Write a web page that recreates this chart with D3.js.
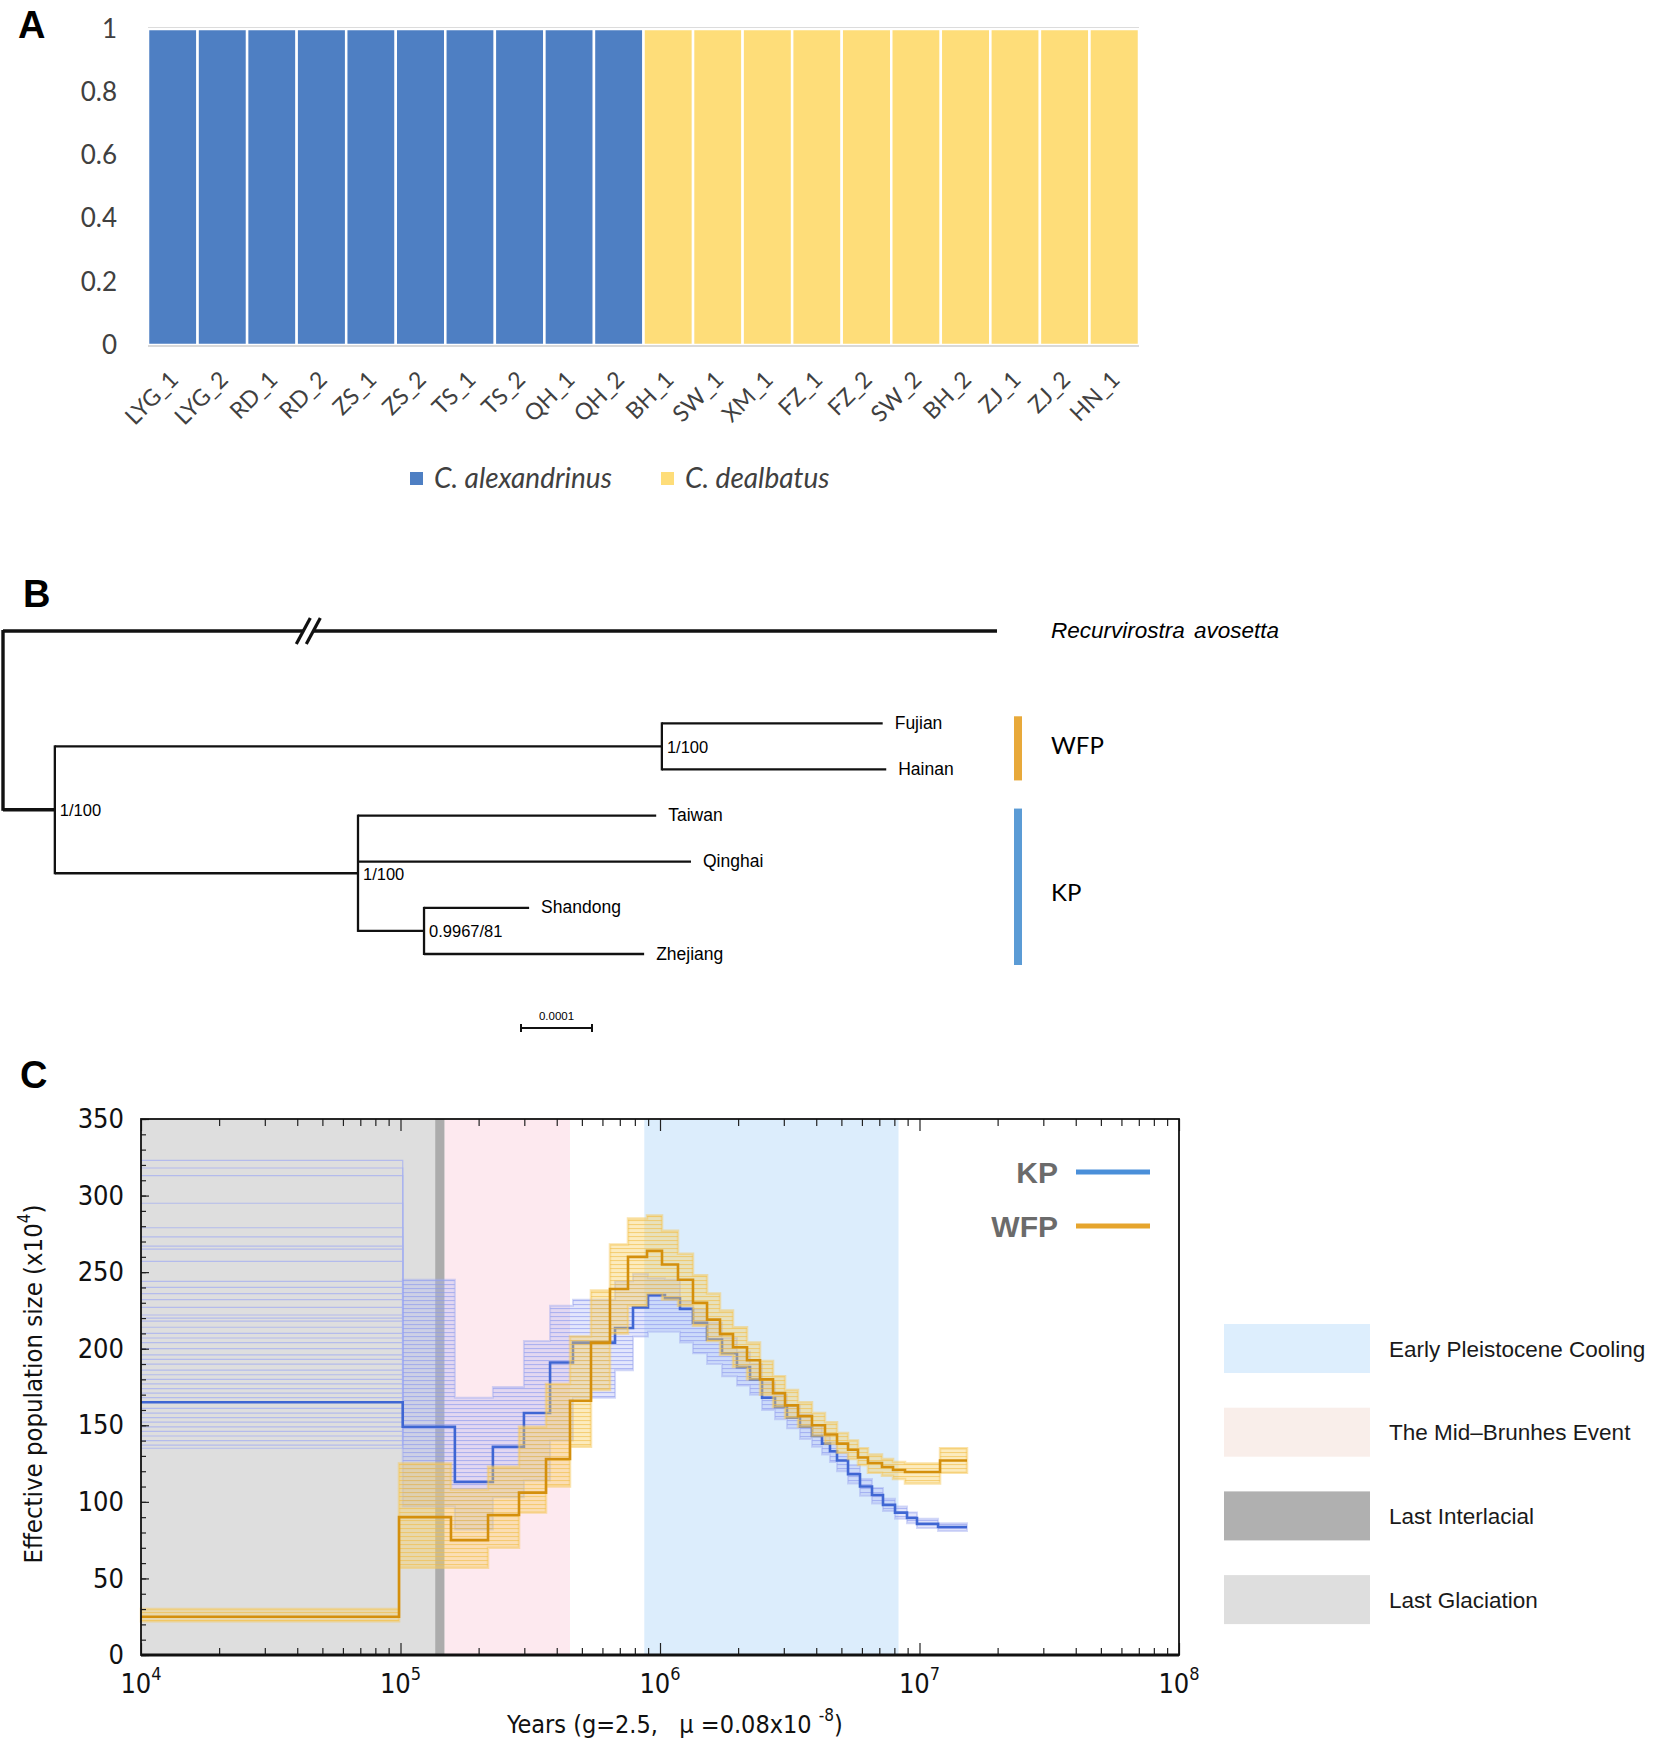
<!DOCTYPE html>
<html>
<head>
<meta charset="utf-8">
<script src="https://cdn.jsdelivr.net/npm/d3@7"></script>
<style>
  body { margin: 0; background: #fff; }
  svg { display: block; }
</style>
</head>
<body>
<div id="chart"></div>
<script>
// ---------- A: ancestry bar plot
const samples = ["LYG_1", "LYG_2", "RD_1", "RD_2", "ZS_1", "ZS_2", "TS_1", "TS_2", "QH_1", "QH_2",
  "BH_1", "SW_1", "XM_1", "FZ_1", "FZ_2", "SW_2", "BH_2", "ZJ_1", "ZJ_2", "HN_1"];
const alexandrinusShare = [1, 1, 1, 1, 1, 1, 1, 1, 1, 1, 0, 0, 0, 0, 0, 0, 0, 0, 0, 0];
const dealbatusShare = [0, 0, 0, 0, 0, 0, 0, 0, 0, 0, 1, 1, 1, 1, 1, 1, 1, 1, 1, 1];
const ancestryKeys = ["C. alexandrinus", "C. dealbatus"];
const shareTicks = [0, 0.2, 0.4, 0.6, 0.8, 1];

// ---------- B: tree (parent table, branch lengths in subst./site)
const treeNodes = ["root", "Recurvirostra avosetta", "ingroup", "WFPnode", "Fujian", "Hainan",
  "KPnode", "Taiwan", "Qinghai", "SZnode", "Shandong", "Zhejiang"];
const treeParents = ["", "root", "root", "ingroup", "WFPnode", "WFPnode",
  "ingroup", "KPnode", "KPnode", "KPnode", "SZnode", "SZnode"];
const branchLengths = [0, 0.0014, 0.000073, 0.000855, 0.000311, 0.000316,
  0.000427, 0.00042, 0.000469, 0.000093, 0.000148, 0.00031];
const nodeSupport = ["", "", "1/100", "1/100", "", "", "1/100", "", "", "0.9967/81", "", ""];
const cladeNames = ["WFP", "KP"];
const cladeTips = [["Fujian", "Hainan"], ["Taiwan", "Qinghai", "Shandong", "Zhejiang"]];
const scaleBarLength = 0.0001;

// ---------- C: PSMC
const periodNames = ["Last Glaciation", "Last Interlacial", "The Mid\u2013Brunhes Event", "Early Pleistocene Cooling"];
const periodStart = [1e4, 1.36e5, 1.48e5, 8.7e5];
const periodEnd = [1.36e5, 1.48e5, 4.5e5, 8.3e6];

const kpTime = [1e4, 1.02e5, 1.62e5, 2.27e5, 2.99e5, 3.77e5, 4.62e5, 6.71e5, 7.87e5, 8.99e5,
  1.045e6, 1.194e6, 1.34e6, 1.518e6, 1.734e6, 1.98e6, 2.223e6, 2.473e6, 2.775e6, 3.086e6,
  3.463e6, 3.852e6, 4.21e6, 4.519e6, 4.81e6, 5.304e6, 5.898e6, 6.561e6, 7.233e6, 8.047e6,
  8.951e6, 9.781e6, 1.179e7, 1.524e7];
const kpNe = [165, 149, 113, 136, 158, 191, 204, 213.5, 227, 235,
  233, 226, 217, 206, 197, 188, 180, 168, 162, 155,
  149, 143, 138, 133, 127, 118, 110, 104.5, 98, 93,
  89.5, 85.6, 83.6];
const kpBootLow = [null, 97, 82, 103, 114, 140, 168, 186, 208, 211,
  211, 204, 197, 190, 182, 176, 170, 160, 154, 148,
  141, 136, 131, 126, 120, 112, 104, 99, 94, 89,
  86, 83, 81];
const kpBootHigh = [null, 245, 168, 175, 205, 228, 232, 244, 249, 246,
  245, 231, 226, 217, 207, 198, 190, 178, 170, 163,
  157, 150, 144, 139, 132, 124, 115, 109, 102, 97,
  93, 89, 86];
// recent-interval bootstrap levels of KP (the spread of flat lines left of 1e5)
const kpBootRecent = [323, 318, 313, 295, 279, 273, 267, 265, 257, 244, 240, 236, 232, 227, 222,
  220, 218, 214, 210, 207, 204, 200, 196, 193, 190, 186, 183, 180, 177, 174, 171, 168,
  161, 158, 155, 152, 149, 146, 143, 140, 137, 135];

const wfpTime = [1e4, 9.87e4, 1.565e5, 2.174e5, 2.862e5, 3.637e5, 4.499e5, 5.421e5, 6.416e5, 7.528e5,
  8.912e5, 1.018e6, 1.173e6, 1.34e6, 1.518e6, 1.703e6, 1.911e6, 2.164e6, 2.429e6, 2.726e6,
  3.032e6, 3.402e6, 3.852e6, 4.323e6, 4.81e6, 5.304e6, 5.794e6, 6.33e6, 7.169e6, 7.906e6,
  8.794e6, 1.2e7, 1.524e7];
const wfpNe = [25, 90, 75, 91.4, 106, 128, 166, 204, 239, 260,
  264, 255, 245, 230, 219, 209.5, 201, 192.5, 180, 171,
  163, 156, 150, 144, 138, 134, 129, 125.4, 122.8, 120.8,
  119.5, 127];
const wfpBootLow = [22, 57, 57, 70, 93, 110, 136, 173, 210, 228,
  236, 232, 228, 215, 205, 196, 188, 180, 170, 162,
  155, 149, 143, 138, 132, 128, 124, 119, 117, 115,
  112, 119];
const wfpBootHigh = [30, 125, 108, 123, 149, 177, 208, 238, 268, 285,
  287, 277, 262, 248, 236, 225, 214, 204, 192, 182,
  173, 165, 158, 152, 145, 140, 135, 131, 128, 126,
  125, 135];

const yTicksC = [0, 50, 100, 150, 200, 250, 300, 350];
const decades = [1e4, 1e5, 1e6, 1e7, 1e8];

// ---------- page
const W = 1654, H = 1741;
const svg = d3.select("#chart").append("svg")
  .attr("width", W).attr("height", H)
  .style("font-family", "'Liberation Sans', Arial, sans-serif");

svg.append("rect").attr("width", W).attr("height", H).attr("fill", "#fff");

svg.selectAll("text.panel")
  .data([["A", 18, 38], ["B", 23, 607], ["C", 20, 1088]])
  .join("text")
  .attr("class", "panel")
  .attr("x", (d) => d[1]).attr("y", (d) => d[2])
  .style("font-size", "38px").style("font-weight", "bold")
  .text((d) => d[0]);

// ================= Panel A =================
{
  const g = svg.append("g").style("font-family", "Lato, 'Open Sans', sans-serif");
  const xA = d3.scaleBand().domain(samples).range([148, 1139]).paddingInner(0);
  const yA = d3.scaleLinear().domain([0, 1]).range([345, 29]);
  const colorA = d3.scaleOrdinal().domain(ancestryKeys).range(["#4e7fc3", "#fedd79"]);

  const rows = samples.map((s, i) => ({
    sample: s,
    "C. alexandrinus": alexandrinusShare[i],
    "C. dealbatus": dealbatusShare[i],
  }));
  const stacked = d3.stack().keys(ancestryKeys)(rows);

  g.selectAll("g.layer")
    .data(stacked)
    .join("g")
    .attr("class", "layer")
    .attr("fill", (d) => colorA(d.key))
    .selectAll("rect")
    .data((d) => d.filter((p) => p[1] > p[0]))
    .join("rect")
    .attr("x", (d) => xA(d.data.sample))
    .attr("y", (d) => yA(d[1]))
    .attr("width", xA.bandwidth())
    .attr("height", (d) => yA(d[0]) - yA(d[1]))
    .attr("stroke", "#fff")
    .attr("stroke-width", 2.5);

  // light grid line at top and axis line at bottom
  g.append("line").attr("x1", 148).attr("x2", 1139).attr("y1", yA(1) - 1.5).attr("y2", yA(1) - 1.5)
    .attr("stroke", "#dcdcdc").attr("stroke-width", 1.2);
  g.append("line").attr("x1", 148).attr("x2", 1139).attr("y1", yA(0) + 1).attr("y2", yA(0) + 1)
    .attr("stroke", "#d9d9d9").attr("stroke-width", 2);

  const yAxis = g.append("g")
    .attr("transform", "translate(148,0)")
    .call(d3.axisLeft(yA).tickValues(shareTicks).tickSize(0).tickPadding(31)
      .tickFormat((d) => (d === 0 || d === 1 ? d : d.toFixed(1))));
  yAxis.select(".domain").remove();
  yAxis.selectAll("text")
    .style("font-family", "Lato, 'Open Sans', sans-serif")
    .style("font-size", "26px").attr("fill", "#404040");

  g.selectAll("text.xl")
    .data(samples)
    .join("text")
    .attr("class", "xl")
    .attr("transform", (d) => `translate(${xA(d) + xA.bandwidth() / 2 + 7},${381}) rotate(-45)`)
    .attr("text-anchor", "end")
    .style("font-size", "23px")
    .attr("fill", "#404040")
    .text((d) => d);

  const legA = g.selectAll("g.leg")
    .data(ancestryKeys)
    .join("g")
    .attr("class", "leg")
    .attr("transform", (d, i) => `translate(${[410, 661][i]},472)`);
  legA.append("rect").attr("width", 13).attr("height", 13).attr("fill", (d) => colorA(d));
  legA.append("text")
    .attr("x", 24).attr("y", 16)
    .style("font-size", "28px").style("font-style", "italic")
    .attr("fill", "#404040")
    .text((d) => d);
}

// ================= Panel B =================
{
  const g = svg.append("g");
  const table = treeNodes.map((id, i) => ({
    id, parent: treeParents[i], len: branchLengths[i], support: nodeSupport[i],
  }));
  const root = d3.stratify().id((d) => d.id).parentId((d) => d.parent)(table);

  root.eachBefore((n) => { n.dist = n.parent ? n.parent.dist + n.data.len : 0; });
  const leaves = root.leaves();
  // outgroup sits one slot above the ingroup
  leaves.forEach((n, i) => { n.slot = i === 0 ? 0 : i + 1; });

  const xT = d3.scaleLinear().domain([0, 0.0014]).range([3, 997]);
  const yT = d3.scaleLinear().domain([0, 7]).range([631, 954]);

  root.eachAfter((n) => {
    if (n.children) {
      n.y = (n.children[0].y + n.children[n.children.length - 1].y) / 2;
    } else {
      n.y = yT(n.slot);
    }
    n.x = xT(n.dist);
  });

  const thick = (n) => (n.depth <= 1 ? 3.4 : 2.3);

  // horizontal branches
  g.selectAll("line.h")
    .data(root.descendants().filter((n) => n.parent))
    .join("line")
    .attr("class", "h")
    .attr("x1", (n) => n.parent.x).attr("x2", (n) => n.x)
    .attr("y1", (n) => n.y).attr("y2", (n) => n.y)
    .attr("stroke", "#111").attr("stroke-width", thick);

  // vertical connectors
  g.selectAll("line.v")
    .data(root.descendants().filter((n) => n.children))
    .join("line")
    .attr("class", "v")
    .attr("x1", (n) => n.x).attr("x2", (n) => n.x)
    .attr("y1", (n) => n.children[0].y - 1)
    .attr("y2", (n) => n.children[n.children.length - 1].y + 1)
    .attr("stroke", "#111").attr("stroke-width", (n) => (n.depth === 0 ? 3.4 : 2.3));

  // break mark on the outgroup branch
  const out = leaves[0];
  const bx = xT(0.00043);
  g.append("polygon")
    .attr("points", `${bx - 9},${out.y + 10} ${bx + 1},${out.y - 10} ${bx + 9},${out.y - 10} ${bx - 1},${out.y + 10}`)
    .attr("fill", "#fff");
  [-5, 5].forEach((o) => {
    g.append("line")
      .attr("x1", bx + o - 7).attr("y1", out.y + 13)
      .attr("x2", bx + o + 7).attr("y2", out.y - 13)
      .attr("stroke", "#111").attr("stroke-width", 3.2);
  });

  // support values
  g.selectAll("text.sup")
    .data(root.descendants().filter((n) => n.data.support))
    .join("text")
    .attr("class", "sup")
    .attr("x", (n) => n.x + 5)
    .attr("y", (n) => n.y + 2)
    .attr("dominant-baseline", "middle")
    .style("font-size", "16.5px")
    .text((n) => n.data.support);

  // tip labels
  g.selectAll("text.tip")
    .data(leaves.slice(1))
    .join("text")
    .attr("class", "tip")
    .attr("x", (n) => n.x + 12)
    .attr("y", (n) => n.y + 1)
    .attr("dominant-baseline", "middle")
    .style("font-size", "17.5px")
    .text((n) => n.id);

  g.append("text")
    .attr("x", 1051).attr("y", out.y + 1)
    .attr("dominant-baseline", "middle")
    .style("font-size", "22.5px").style("font-style", "italic")
    .style("word-spacing", "3px")
    .text(out.id);

  // clade bars
  const cladeColor = { WFP: "#e8a93a", KP: "#5b9bd5" };
  cladeNames.forEach((c, i) => {
    const ys = cladeTips[i].map((t) => leaves.find((n) => n.id === t).y);
    const top = d3.min(ys) - 7, bot = d3.max(ys) + 11;
    g.append("rect")
      .attr("x", 1014).attr("y", top).attr("width", 8).attr("height", bot - top)
      .attr("fill", cladeColor[c]);
    g.append("text")
      .attr("x", 1051).attr("y", (top + bot) / 2 + (i === 0 ? 0 : 8))
      .attr("dominant-baseline", "middle")
      .style("font-family", "Lato, 'Open Sans', sans-serif")
      .style("font-size", "24px")
      .text(c);
  });

  // scale bar
  const sx0 = 521, sx1 = sx0 + (xT(scaleBarLength) - xT(0)), sy = 1028;
  g.append("path")
    .attr("d", `M${sx0},${sy - 4}V${sy + 4}M${sx0},${sy}H${sx1}M${sx1},${sy - 4}V${sy + 4}`)
    .attr("stroke", "#111").attr("stroke-width", 2).attr("fill", "none");
  g.append("text")
    .attr("x", (sx0 + sx1) / 2).attr("y", sy - 8)
    .attr("text-anchor", "middle")
    .style("font-size", "11.5px")
    .text(scaleBarLength.toFixed(4));
}

// ================= Panel C =================
{
  const g = svg.append("g").style("font-family", "'Liberation Sans Narrow', 'DejaVu Sans Condensed', sans-serif");
  const x0 = 141, x1 = 1179, y0 = 1655, y1 = 1119;
  const xC = d3.scaleLog().domain([1e4, 1e8]).range([x0, x1]);
  const yC = d3.scaleLinear().domain([0, 350]).range([y0, y1]);

  const periodFill = ["#dedede", "#acacac", "#fde9ef", "#dcedfc"];
  const periodSwatch = ["#dedede", "#b0b0b0", "#f9eeea", "#ddeefd"];

  g.selectAll("rect.period")
    .data(periodNames)
    .join("rect")
    .attr("class", "period")
    .attr("x", (d, i) => xC(periodStart[i]))
    .attr("width", (d, i) => xC(periodEnd[i]) - xC(periodStart[i]))
    .attr("y", y1).attr("height", y0 - y1)
    .attr("fill", (d, i) => periodFill[i]);

  // hatch patterns to imitate bootstrap bundles
  const defs = svg.append("defs");
  const mkPattern = (id, bg, fg) => {
    const p = defs.append("pattern").attr("id", id)
      .attr("patternUnits", "userSpaceOnUse").attr("width", 8).attr("height", 4);
    p.append("rect").attr("width", 8).attr("height", 4).attr("fill", bg);
    p.append("rect").attr("width", 8).attr("height", 1.1).attr("fill", fg);
  };
  mkPattern("kpBoot", "rgba(170,180,245,0.33)", "rgba(140,152,238,0.6)");
  mkPattern("wfpBoot", "rgba(248,207,100,0.42)", "rgba(240,188,70,0.6)");

  const bandPts = (t, lo, hi) => {
    const pts = lo.map((l, i) => ({ t: t[i], lo: l, hi: hi[i] }));
    pts.push({ t: t[t.length - 1], lo: lo[lo.length - 1], hi: hi[hi.length - 1] });
    return pts;
  };
  const stepPts = (t, v) => {
    const pts = v.map((val, i) => ({ t: t[i], v: val }));
    pts.push({ t: t[t.length - 1], v: v[v.length - 1] });
    return pts;
  };
  const band = d3.area()
    .defined((d) => d.lo != null)
    .curve(d3.curveStepAfter)
    .x((d) => xC(d.t)).y0((d) => yC(d.lo)).y1((d) => yC(d.hi));
  const step = d3.line().curve(d3.curveStepAfter).x((d) => xC(d.t)).y((d) => yC(d.v));

  // KP bootstraps
  const flat = d3.line().x((d) => xC(d[0])).y((d) => yC(d[1]));
  g.selectAll("path.kpRecent")
    .data(kpBootRecent)
    .join("path")
    .attr("class", "kpRecent")
    .attr("d", (L) => flat([[1e4, L], [kpTime[1], L], [kpTime[1], kpNe[1]]]))
    .attr("fill", "none")
    .attr("stroke", "#a9b1ef").attr("stroke-opacity", 0.8).attr("stroke-width", 1.2);
  g.append("path")
    .attr("d", band(bandPts(kpTime, kpBootLow, kpBootHigh)))
    .attr("fill", "url(#kpBoot)")
    .attr("stroke", "rgba(160,170,240,0.45)").attr("stroke-width", 2);

  g.append("path")
    .attr("d", step(stepPts(kpTime, kpNe)))
    .attr("fill", "none").attr("stroke", "#3f66d3").attr("stroke-width", 2.6);

  // WFP bootstraps and main
  g.append("path")
    .attr("d", band(bandPts(wfpTime, wfpBootLow, wfpBootHigh)))
    .attr("fill", "url(#wfpBoot)")
    .attr("stroke", "rgba(245,200,90,0.5)").attr("stroke-width", 2.5);

  g.append("path")
    .attr("d", step(stepPts(wfpTime, wfpNe)))
    .attr("fill", "none").attr("stroke", "#d48f0c").attr("stroke-width", 2.6);

  // axes: ticks only, inward
  const allX = xC.ticks();
  const minorX = allX.filter((t) => !decades.includes(t));
  const tickStyle = (sel) => {
    sel.select(".domain").remove();
    sel.selectAll("line").attr("stroke", "#222").attr("stroke-width", 1.2);
  };
  g.append("g").attr("transform", `translate(0,${y0})`)
    .call(d3.axisBottom(xC).tickValues(minorX).tickSize(-7).tickFormat("")).call(tickStyle);
  g.append("g").attr("transform", `translate(0,${y0})`)
    .call(d3.axisBottom(xC).tickValues(decades).tickSize(-12).tickFormat("")).call(tickStyle);
  g.append("g").attr("transform", `translate(0,${y1})`)
    .call(d3.axisTop(xC).tickValues(minorX).tickSize(-7).tickFormat("")).call(tickStyle);
  g.append("g").attr("transform", `translate(0,${y1})`)
    .call(d3.axisTop(xC).tickValues(decades).tickSize(-12).tickFormat("")).call(tickStyle);

  g.append("g").attr("transform", `translate(${x0},0)`)
    .call(d3.axisLeft(yC).tickValues(d3.range(0, 351, 10)).tickSize(-5).tickFormat("")).call(tickStyle);
  const yAx = g.append("g").attr("transform", `translate(${x0},0)`)
    .call(d3.axisLeft(yC).tickValues(yTicksC).tickSize(-8).tickPadding(17));
  tickStyle(yAx);
  yAx.selectAll("text")
    .style("font-family", "'Liberation Sans Narrow', 'DejaVu Sans Condensed', sans-serif")
    .style("font-size", "27px").attr("fill", "#111");

  // frame
  g.append("rect").attr("x", x0).attr("y", y1).attr("width", x1 - x0).attr("height", y0 - y1)
    .attr("fill", "none").attr("stroke", "#111").attr("stroke-width", 1.8);
  g.append("line").attr("x1", x0).attr("x2", x1).attr("y1", y0).attr("y2", y0)
    .attr("stroke", "#111").attr("stroke-width", 3);

  // decade labels
  const dl = g.selectAll("text.dec")
    .data(decades)
    .join("text")
    .attr("class", "dec")
    .attr("x", (d) => xC(d)).attr("y", 1693)
    .attr("text-anchor", "middle")
    .style("font-size", "27px").attr("fill", "#111");
  dl.append("tspan").text("10");
  dl.append("tspan").attr("dy", -13).style("font-size", "18px").text((d) => Math.round(Math.log10(d)));

  // axis titles
  const xt = g.append("text")
    .attr("x", 507).attr("y", 1733)
    .style("font-size", "25px").style("white-space", "pre").attr("fill", "#111");
  xt.append("tspan").text("Years (g=2.5,   \u03bc =0.08x10 ");
  xt.append("tspan").attr("dy", -12).style("font-size", "17px").text("-8");
  xt.append("tspan").attr("dy", 12).text(")");

  const yt = g.append("text")
    .attr("transform", "translate(42,1384) rotate(-90)")
    .attr("text-anchor", "middle")
    .style("font-size", "25.5px").attr("fill", "#111");
  yt.append("tspan").text("Effective population size (x10");
  yt.append("tspan").attr("dy", -12).style("font-size", "17px").text("4");
  yt.append("tspan").attr("dy", 12).text(")");

  // population legend inside plot
  const popNames = ["KP", "WFP"];
  const popLegendColor = ["#4a8fd9", "#e6a52d"];
  const pl = g.selectAll("g.pop")
    .data(popNames)
    .join("g")
    .attr("class", "pop")
    .attr("transform", (d, i) => `translate(0,${1172 + i * 54})`);
  pl.append("text")
    .attr("x", 1058).attr("y", 0)
    .attr("text-anchor", "end").attr("dominant-baseline", "central")
    .style("font-family", "'Liberation Sans', Arial, sans-serif")
    .style("font-size", "30px").style("font-weight", "bold")
    .attr("fill", "#6b6b6b")
    .text((d) => d);
  pl.append("line")
    .attr("x1", 1076).attr("x2", 1150).attr("y1", 0).attr("y2", 0)
    .attr("stroke", (d, i) => popLegendColor[i]).attr("stroke-width", 5);

  // period legend on the right
  const order = [3, 2, 1, 0];
  const pg = svg.selectAll("g.per")
    .data(order)
    .join("g")
    .attr("class", "per")
    .attr("transform", (d, i) => `translate(1224,${1324 + i * 83.7})`);
  pg.append("rect").attr("width", 146).attr("height", 49).attr("fill", (d) => periodSwatch[d]);
  pg.append("text")
    .attr("x", 165).attr("y", 25)
    .attr("dominant-baseline", "central")
    .style("font-family", "'Liberation Sans', Arial, sans-serif")
    .style("font-size", "22.5px").attr("fill", "#1a1a1a")
    .text((d) => periodNames[d]);
}
</script>
</body>
</html>
